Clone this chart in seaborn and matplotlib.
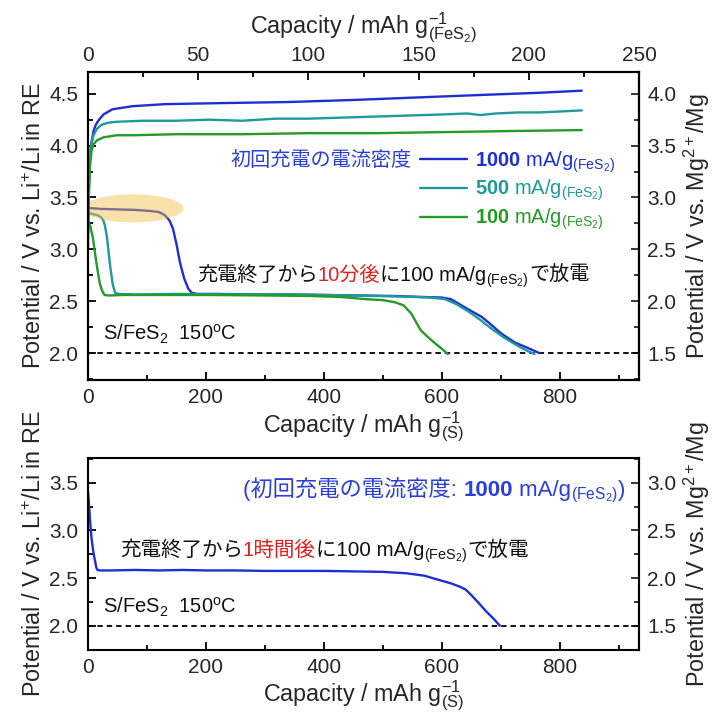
import matplotlib
matplotlib.use("Agg")
import matplotlib.pyplot as plt
import matplotlib.transforms as mtransforms
from matplotlib.patches import Ellipse
from matplotlib.ticker import MultipleLocator
import numpy as np
import pandas as pd
import seaborn as sns

# ---------------- data ----------------
rates = ["1000", "500", "100"]
colors = {"1000": "#1c30d2", "500": "#1e9a9c", "100": "#249b26"}

# charge curves (top axis, mAh g-1 (FeS2))
c1000_x = [0, 0.3, 0.8, 1.5, 2.5, 3.5, 5, 7, 11, 20, 35, 60, 90, 120, 150, 180, 205, 224]
c1000_v = [3.15, 3.55, 3.85, 4.02, 4.14, 4.20, 4.25, 4.30, 4.35, 4.38, 4.40, 4.41, 4.42, 4.44, 4.465, 4.49, 4.51, 4.53]
c500_x = [0, 0.5, 1.2, 2.5, 4, 6, 9, 13, 25, 40, 55, 70, 85, 100, 115, 130, 145, 160, 172, 178, 185, 195, 205, 215, 224]
c500_v = [3.30, 3.75, 3.98, 4.10, 4.16, 4.20, 4.22, 4.23, 4.24, 4.24, 4.25, 4.24, 4.26, 4.26, 4.27, 4.28, 4.29, 4.30, 4.31, 4.295, 4.31, 4.32, 4.32, 4.33, 4.34]
c100_x = [0, 0.4, 0.9, 1.6, 2.4, 4, 7, 13, 20, 40, 70, 100, 130, 160, 190, 224]
c100_v = [3.00, 3.50, 3.80, 3.95, 4.01, 4.05, 4.08, 4.10, 4.10, 4.11, 4.11, 4.12, 4.12, 4.13, 4.14, 4.15]

# discharge curves after 10 min (bottom axis, mAh g-1 (S))
d1000_x = [0, 20, 50, 80, 105, 120, 130, 138, 144, 150, 156, 163, 170, 176, 185, 220, 280, 340, 400, 460, 520, 570, 600, 615, 627, 645, 667, 680, 700, 724, 745, 765]
d1000_v = [3.40, 3.39, 3.385, 3.38, 3.37, 3.36, 3.33, 3.28, 3.20, 3.05, 2.87, 2.72, 2.62, 2.58, 2.57, 2.57, 2.565, 2.565, 2.56, 2.555, 2.55, 2.54, 2.535, 2.52, 2.48, 2.42, 2.35, 2.29, 2.19, 2.10, 2.05, 2.00]
d500_x = [0, 8, 16, 22, 26, 29, 32, 35, 38, 42, 46, 52, 80, 150, 250, 350, 450, 530, 580, 605, 625, 645, 665, 685, 705, 725, 745, 757]
d500_v = [3.35, 3.34, 3.33, 3.31, 3.28, 3.22, 3.12, 2.97, 2.82, 2.66, 2.58, 2.57, 2.565, 2.57, 2.565, 2.565, 2.555, 2.545, 2.535, 2.52, 2.47, 2.40, 2.32, 2.23, 2.15, 2.08, 2.02, 1.99]
d100_x = [0, 4, 8, 11, 14, 17, 20, 24, 28, 35, 60, 120, 200, 300, 380, 430, 470, 500, 520, 535, 548, 556, 564, 575, 587, 600, 610]
d100_v = [3.28, 3.22, 3.12, 3.00, 2.88, 2.77, 2.67, 2.60, 2.56, 2.555, 2.56, 2.56, 2.56, 2.555, 2.55, 2.54, 2.52, 2.51, 2.49, 2.46, 2.38, 2.30, 2.22, 2.16, 2.10, 2.04, 1.99]

# discharge after 1 h (bottom panel)
b_x = [0, 1.5, 3, 4.5, 6, 8, 10, 12, 14, 16, 20, 40, 80, 120, 160, 200, 250, 300, 350, 400, 450, 500, 540, 570, 595, 615, 630, 640, 650, 662, 675, 688, 698]
b_v = [3.41, 3.30, 3.15, 3.02, 2.92, 2.82, 2.74, 2.68, 2.61, 2.585, 2.58, 2.58, 2.585, 2.58, 2.585, 2.58, 2.58, 2.575, 2.575, 2.575, 2.57, 2.565, 2.55, 2.525, 2.48, 2.445, 2.41, 2.38, 2.32, 2.24, 2.15, 2.07, 2.00]

bottom_xticks = [0, 200, 400, 600, 800]
top_xticks = [0, 50, 100, 150, 200, 250]

# ---------------- style ----------------
sns.set_style("ticks")
plt.rcParams["font.family"] = ["Liberation Sans", "Noto Sans CJK JP"]
plt.rcParams["mathtext.fontset"] = "custom"
plt.rcParams["mathtext.rm"] = "Liberation Sans"
plt.rcParams["mathtext.it"] = "Liberation Sans:italic"
plt.rcParams["mathtext.bf"] = "Liberation Sans:bold"
plt.rcParams["axes.linewidth"] = 1.5
plt.rcParams["text.color"] = "#111111"

FS = 15      # tick labels
LFS = 16.8   # axis labels
AFS = 14.5   # annotations
W, H = 716, 719
fig = plt.figure(figsize=(W / 100, H / 100), dpi=100)
ax1 = fig.add_axes([88 / W, 1 - 380 / H, 551 / W, 308 / H])
ax2 = fig.add_axes([88 / W, 1 - 650 / H, 551 / W, 192 / H])

def df_from(xs, vs, names):
    frames = [pd.DataFrame({"cap": x, "V": v, "rate": n}) for x, v, n in zip(xs, vs, names)]
    return pd.concat(frames, ignore_index=True)

dis = df_from([d1000_x, d500_x, d100_x], [d1000_v, d500_v, d100_v], rates)
chg = df_from([c1000_x, c500_x, c100_x], [c1000_v, c500_v, c100_v], rates)
bot = pd.DataFrame({"cap": b_x, "V": b_v})

# ---------- top panel ----------
sns.lineplot(data=dis, x="cap", y="V", hue="rate", hue_order=rates, palette=colors,
             sort=False, estimator=None, legend=False, lw=1.7, ax=ax1)
axt = ax1.twiny()
sns.lineplot(data=chg, x="cap", y="V", hue="rate", hue_order=rates, palette=colors,
             sort=False, estimator=None, legend=False, lw=1.7, ax=axt)

ax1.set_xlim(0, 934)
axt.set_xlim(0, 250)
ax1.set_ylim(1.74, 4.71)
ax1.axhline(2.0, color="black", lw=1.3, ls=(0, (3, 2.2)), zorder=1)
ax1.add_patch(Ellipse((76, 3.395), width=172, height=0.27, facecolor="#F6BD45",
                      alpha=0.45, edgecolor="none", zorder=5))

ax1.set_xticks(bottom_xticks)
ax1.xaxis.set_minor_locator(MultipleLocator(100))
ax1.yaxis.set_major_locator(MultipleLocator(0.5))
ax1.yaxis.set_minor_locator(MultipleLocator(0.25))
axt.set_xticks(top_xticks)
axt.xaxis.set_minor_locator(MultipleLocator(25))
sec1 = ax1.secondary_yaxis("right", functions=(lambda y: y - 0.5, lambda y: y + 0.5))
sec1.yaxis.set_major_locator(MultipleLocator(0.5))
sec1.yaxis.set_minor_locator(MultipleLocator(0.25))

ax1.set_xlabel(r"Capacity / mAh g$^{-1}_{(\mathrm{S})}$", fontsize=LFS, labelpad=2)
axt.set_xlabel(r"Capacity / mAh g$^{-1}_{(\mathrm{FeS_2})}$", fontsize=LFS, labelpad=9)
axt.set_ylabel("")
ax1.set_ylabel(r"Potential / V vs. Li$^{+}$/Li in RE", fontsize=LFS, labelpad=2)
sec1.set_ylabel(r"Potential / V vs. Mg$^{2+}$/Mg", fontsize=LFS, labelpad=4)

leg = axt.legend(handles=axt.lines[:3],
                 labels=[r"$\mathbf{1000}$ mA/g$_{(\mathrm{FeS_2})}$",
                         r"$\mathbf{500}$ mA/g$_{(\mathrm{FeS_2})}$",
                         r"$\mathbf{100}$ mA/g$_{(\mathrm{FeS_2})}$"],
                 loc="upper left", bbox_to_anchor=((420 - 88) / 551, (380 - 149) / 308),
                 frameon=False, fontsize=AFS, handlelength=2.35, handletextpad=0.4,
                 labelspacing=0.17, borderpad=0, borderaxespad=0, labelcolor="linecolor")

# ---------- bottom panel ----------
sns.lineplot(data=bot, x="cap", y="V", color=colors["1000"], sort=False,
             estimator=None, lw=1.7, ax=ax2)
ax2.set_xlim(0, 934)
ax2.set_ylim(1.745, 3.76)
ax2.axhline(2.0, color="black", lw=1.3, ls=(0, (3, 2.2)), zorder=1)
ax2.set_xticks(bottom_xticks)
ax2.xaxis.set_minor_locator(MultipleLocator(100))
ax2.yaxis.set_major_locator(MultipleLocator(0.5))
ax2.yaxis.set_minor_locator(MultipleLocator(0.25))
sec2 = ax2.secondary_yaxis("right", functions=(lambda y: y - 0.5, lambda y: y + 0.5))
sec2.yaxis.set_major_locator(MultipleLocator(0.5))
sec2.yaxis.set_minor_locator(MultipleLocator(0.25))
ax2.set_xlabel(r"Capacity / mAh g$^{-1}_{(\mathrm{S})}$", fontsize=LFS, labelpad=1)
ax2.set_ylabel(r"Potential / V vs. Li$^{+}$/Li in RE", fontsize=LFS, labelpad=2)
sec2.set_ylabel(r"Potential / V vs. Mg$^{2+}$/Mg", fontsize=LFS, labelpad=4)

for a in (ax1, ax2, axt):
    a.tick_params(which="both", direction="in", width=1.3, labelsize=FS, color="black")
    a.tick_params(which="major", length=6)
    a.tick_params(which="minor", length=3.5)
for a in (sec1, sec2):
    a.tick_params(which="both", direction="in", width=1.3, labelsize=FS, pad=6)
    a.tick_params(which="major", length=6)
    a.tick_params(which="minor", length=3.5)
for a in (ax1, ax2):
    a.tick_params(axis="y", pad=7)
    a.tick_params(axis="x", pad=6)
axt.tick_params(axis="x", pad=5)
for a in (ax1, ax2, axt):
    for s in a.spines.values():
        s.set_linewidth(1.5)
        s.set_color("black")

# ---------- rich texts ----------
fig.canvas.draw()
renderer = fig.canvas.get_renderer()

def rich_text(ax, x, y, pieces, ha="left", size=AFS):
    texts = []
    for s, kw in pieces:
        t = ax.text(0, 0, s, va="baseline", ha="left", fontsize=size, **kw)
        texts.append(t)
    widths = [t.get_window_extent(renderer).width for t in texts]
    x0, y0 = ax.transAxes.transform((x, y))
    if ha == "right":
        x0 -= sum(widths)
    cur = x0
    for t, w in zip(texts, widths):
        t.set_transform(mtransforms.IdentityTransform())
        t.set_position((cur, y0))
        cur += w

RED = "#e02020"
BLK = "#111111"
BLUE_T = "#2a3fd6"
SUB = r"$_{(\mathrm{FeS_2})}$"

ax1.text((412 - 88) / 551, (380 - 161) / 308, "初回充電の電流密度", color=BLUE_T,
         fontsize=AFS, ha="right", va="center", transform=ax1.transAxes)
rich_text(ax1, (197 - 88) / 551, (380 - 281) / 308,
          [("充電終了から", dict(color=BLK)), ("10分後", dict(color=RED)),
           ("に100 mA/g", dict(color=BLK)), (SUB, dict(color=BLK)),
           ("で放電", dict(color=BLK))])
ax1.text((103 - 88) / 551, (380 - 340) / 308, r"S/FeS$_2$  150$^{\mathrm{o}}$C",
         fontsize=AFS, color=BLK, va="baseline", transform=ax1.transAxes)

rich_text(ax2, (625 - 88) / 551, (650 - 496) / 192,
          [("(初回充電の電流密度: ", dict(color=BLUE_T)),
           ("1000", dict(color=BLUE_T, fontweight="bold")),
           (" mA/g", dict(color=BLUE_T)), (SUB, dict(color=BLUE_T)),
           (")", dict(color=BLUE_T))], ha="right", size=16.0)
rich_text(ax2, (120 - 88) / 551, (650 - 556) / 192,
          [("充電終了から", dict(color=BLK)), ("1時間後", dict(color=RED)),
           ("に100 mA/g", dict(color=BLK)), (SUB, dict(color=BLK)),
           ("で放電", dict(color=BLK))], size=14.8)
ax2.text((103 - 88) / 551, (650 - 613) / 192, r"S/FeS$_2$  150$^{\mathrm{o}}$C",
         fontsize=AFS, color=BLK, va="baseline", transform=ax2.transAxes)

fig.savefig("out.png", dpi=100)
